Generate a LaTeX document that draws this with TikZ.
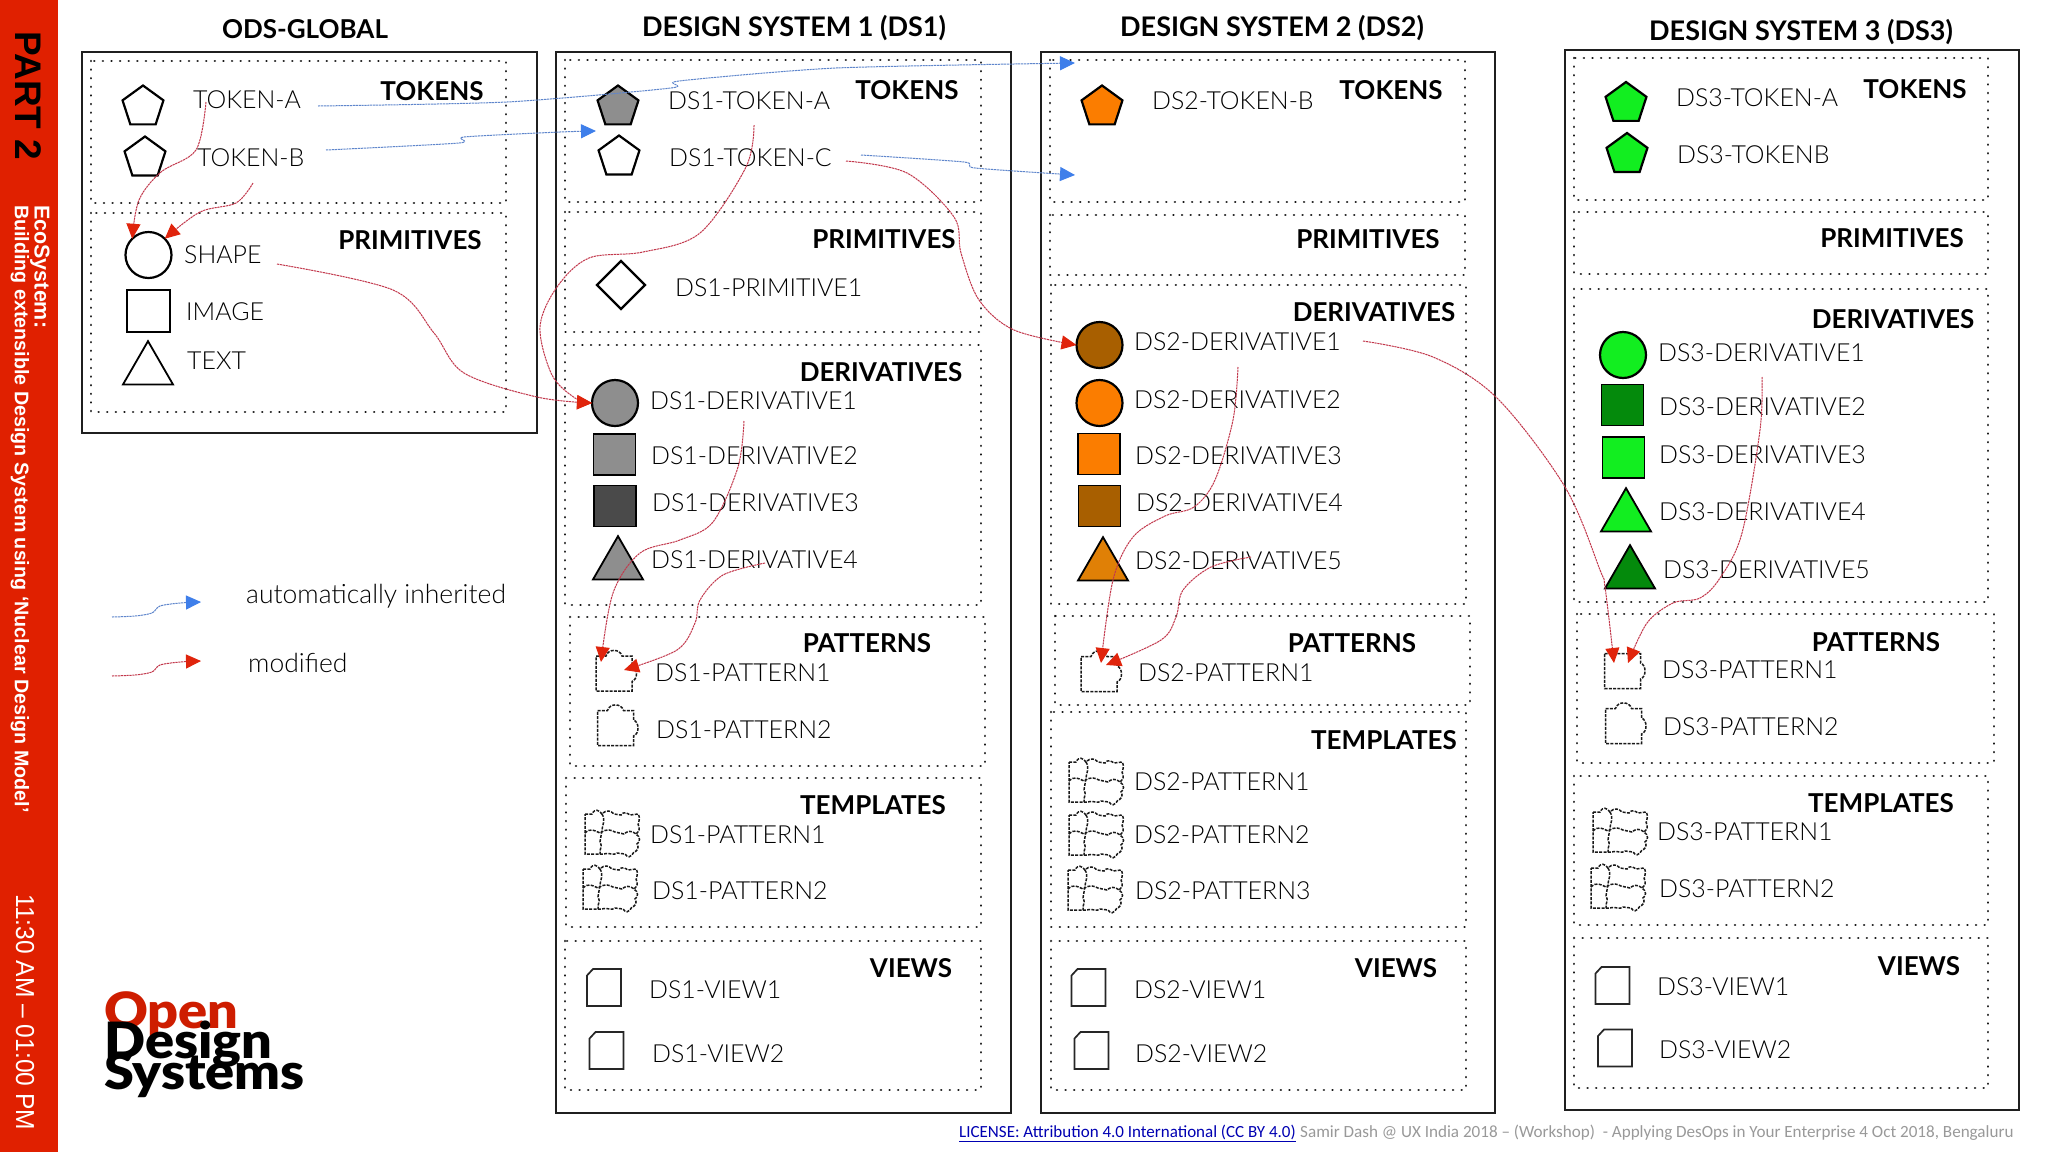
\documentclass[tikz,border=0pt]{standalone}
\usepackage{fontspec}
\usetikzlibrary{arrows.meta,shapes.geometric}
\setmainfont{Lato}
\newfontfamily\lightf{Lato Light}
\newfontfamily\blackf{Lato Black}
\newfontfamily\sidef{Liberation Sans}
\newfontfamily\licf{Carlito}
\definecolor{barred}{HTML}{E02000}
\definecolor{linkred}{HTML}{C2384C}
\definecolor{linkblue}{HTML}{5F86CC}
\definecolor{tipred}{HTML}{E0240C}
\definecolor{tipblue}{HTML}{3F7FEA}
\definecolor{gmid}{HTML}{8E8E8E}
\definecolor{gdark}{HTML}{4A4A4A}
\definecolor{orng}{HTML}{FB7D00}
\definecolor{orngd}{HTML}{E08006}
\definecolor{brwn}{HTML}{A85F00}
\definecolor{gbright}{HTML}{12EE20}
\definecolor{gdeep}{HTML}{048A0C}
\definecolor{txt}{HTML}{000000}
\tikzset{
  frame/.style={draw=black!88,line width=2.4pt},
  dotpanel/.style={draw=black!90,line width=2.6pt,line cap=round,dash pattern=on 0.01pt off 8.6pt},
  lbl/.style={anchor=west,inner sep=0pt,text=txt,font=\lightf\fontsize{24.9}{25}\selectfont},
  hd/.style={anchor=center,inner sep=0pt,text=black,font=\bfseries\fontsize{26}{26}\selectfont},
  ttl/.style={anchor=center,inner sep=0pt,text=black,font=\bfseries\fontsize{26.5}{26.5}\selectfont},
  ic/.style={draw=black,line width=2.2pt,inner sep=0pt,outer sep=0pt},
  circ/.style={ic,circle,minimum size=46pt},
  sq/.style={ic,rectangle,minimum width=42pt,minimum height=41pt,line width=1.8pt},
  pent/.style={ic,regular polygon,regular polygon sides=5,minimum size=43pt},
  tri/.style={ic,regular polygon,regular polygon sides=3,minimum size=57.7pt,line width=1.8pt},
  redlink/.style={draw=linkred,line width=1pt,dash pattern=on 2.2pt off 0.7pt,
    -{Triangle[length=15pt,width=14pt,color=tipred,fill=tipred]}},
  bluelink/.style={draw=linkblue,line width=1pt,dash pattern=on 2.2pt off 0.7pt,
    -{Triangle[length=15pt,width=14pt,color=tipblue,fill=tipblue]}},
  dashic/.style={draw=black!90,line width=1.5pt,dash pattern=on 3pt off 1.3pt},
  puz/.pic={\draw[dashic] (-18,-17.5) -- (-8,-17.5) .. controls (-6,-25) and (6,-25) .. (8,-17.5) -- (18,-17.5) -- (18,-8) .. controls (24,-6) and (24,6) .. (18,8) -- (18,17.5) -- (-18,17.5) -- cycle;},
  puzr/.pic={\draw[dashic] (-18,-17.5) -- (18,-17.5) -- (18,-8) .. controls (24,-6) and (24,6) .. (18,8) -- (18,17.5) -- (-18,17.5) -- cycle;},
  tmpl/.pic={\draw[dashic] (-27,-20) -- (-20,-20) .. controls (-17,-26) and (-13,-24) .. (-10,-20)
      .. controls (-5,-25) and (-1,-23) .. (2,-20) -- (9,-19) .. controls (12,-23) and (15,-21) .. (18,-19) -- (26,-20)
      .. controls (30,-14) and (24,-10) .. (27,-7) .. controls (28,-3) and (25,-1) .. (24,0)
      .. controls (29,3) and (28,8) .. (25,10) .. controls (28,14) and (24,18) .. (22,18)
      .. controls (18,24) and (16,24) .. (13,20) -- (5,19) .. controls (2,22) and (-3,18) .. (-9,20) -- (-27,20) -- cycle;
    \draw[dashic] (-10,-20) .. controls (-6,-14) and (-10,-8) .. (-10,-4) -- (-12,8) .. controls (-9,12) and (-13,16) .. (-12,20);
    \draw[dashic] (-27,-1) .. controls (-22,-6) and (-18,-4) .. (-12,-1) .. controls (-4,-6) and (-2,-4) .. (3,-2) -- (12,0) .. controls (15,-3) and (20,-4) .. (24,0);},
  docic/.pic={\draw[draw=black!85,line width=1.7pt] (-11,-18.5) -- (17,-18.5) -- (17,18.5) -- (-17,18.5) -- (-17,-12) -- cycle;}
}
\newcommand{\lab}[4]{\node[lbl] (#1) at (#2,#3) {#4};}
\newcommand{\head}[4]{\node[hd] (#1) at (#2,#3) {#4};}
\newcommand{\panel}[4]{\draw[dotpanel] (#1,#2) rectangle (#3,#4);}
\begin{document}
\begin{tikzpicture}[x=1pt,y=-1pt]
\useasboundingbox (0,0) rectangle (2048,1152);
\fill[white] (0,0) rectangle (2048,1152);
% side bar
\fill[barred] (0,0) rectangle (58,1152);
\node[rotate=-90,inner sep=0pt,text=black,font=\sidef\bfseries\fontsize{37}{37}\selectfont,anchor=center] (part) at (28,96) {PART 2};
\node[rotate=-90,inner sep=0pt,text=white,font=\sidef\bfseries\fontsize{21.5}{21.5}\selectfont,anchor=west] (eco) at (40,205) {EcoSystem:};
\node[rotate=-90,inner sep=0pt,text=white,font=\sidef\bfseries\fontsize{19.7}{19.7}\selectfont,anchor=west] (bld) at (20,205) {Building extensible Design System using ‘Nuclear Design Model’};
\node[rotate=-90,inner sep=0pt,text=white,font=\sidef\fontsize{26}{26}\selectfont,anchor=west] (time) at (25,894) {\scalebox{0.945}[1]{11:30 AM – 01:00 PM}};
% titles
\node[ttl,font=\bfseries\fontsize{26}{26}\selectfont] (t0) at (305,29) {ODS-GLOBAL};
\node[ttl,font=\bfseries\fontsize{27}{27}\selectfont] (t1) at (794,28) {DESIGN SYSTEM 1 (DS1)};
\node[ttl,font=\bfseries\fontsize{27}{27}\selectfont] (t2) at (1272,28) {DESIGN SYSTEM 2 (DS2)};
\node[ttl,font=\bfseries\fontsize{27}{27}\selectfont] (t3) at (1801,32) {DESIGN SYSTEM 3 (DS3)};
% frames
\draw[frame] (82,52) rectangle (537,433);
\draw[frame] (556,52) rectangle (1011,1113);
\draw[frame] (1041,52) rectangle (1495,1113);
\draw[frame] (1565,50) rectangle (2019,1110);
% panels ODS
\panel{91}{61}{506}{203}
\panel{91}{213}{506}{412}
% panels DS1
\panel{565}{60}{981}{202}
\panel{565}{212}{981}{332}
\panel{565}{345}{981}{605}
\panel{570}{617}{985}{766}
\panel{566}{778}{981}{927}
\panel{565}{941}{981}{1090}
% panels DS2
\panel{1050}{60}{1465}{202}
\panel{1050}{215}{1465}{275}
\panel{1051}{285}{1466}{604}
\panel{1055}{616}{1470}{705}
\panel{1051}{712}{1466}{927}
\panel{1051}{941}{1466}{1090}
% panels DS3
\panel{1574}{58}{1988}{200}
\panel{1574}{212}{1988}{274}
\panel{1574}{289}{1988}{602}
\panel{1577}{614}{1994}{763}
\panel{1574}{776}{1988}{925}
\panel{1574}{938}{1988}{1088}
% ODS content
\head{h0a}{432}{91}{TOKENS}
\head{h0b}{410}{240}{PRIMITIVES}
\node[pent] (ga) at (143,107) {};
\node[pent] (gb) at (145,158) {};
\node[circ] (gshape) at (148.5,255) {};
\node[sq,minimum width=43pt,minimum height=42pt] (gimg) at (148.5,311) {};
\node[tri] (gtxt) at (148,370) {};
\lab{lta}{193}{100}{TOKEN-A}
\lab{ltb}{197}{158}{TOKEN-B}
\lab{lsh}{184}{255}{SHAPE}
\lab{lim}{186}{312}{IMAGE}
\lab{ltx}{187}{361}{TEXT}
% DS1 content
\head{h1a}{907}{90}{TOKENS}
\head{h1b}{884}{239}{PRIMITIVES}
\head{h1c}{881}{372}{DERIVATIVES}
\head{h1d}{867}{643}{PATTERNS}
\head{h1e}{873}{805}{TEMPLATES}
\head{h1f}{911}{968}{VIEWS}
\node[pent,fill=gmid] (d1ta) at (618,107) {};
\node[pent] (d1tc) at (619,157) {};
\node[ic,diamond,minimum size=48pt] (d1pr) at (621,285) {};
\node[circ,fill=gmid] (d1d1) at (615,403) {};
\node[sq,fill=gmid] (d1d2) at (614.5,454.5) {};
\node[sq,fill=gdark] (d1d3) at (615,506) {};
\node[tri,fill=gmid] (d1d4) at (618,565) {};
\lab{l1ta}{668}{101}{DS1-TOKEN-A}
\lab{l1tc}{669}{158}{DS1-TOKEN-C}
\lab{l1pr}{675}{288}{DS1-PRIMITIVE1}
\lab{l1d1}{650}{401}{DS1-DERIVATIVE1}
\lab{l1d2}{651}{456}{DS1-DERIVATIVE2}
\lab{l1d3}{652}{503}{DS1-DERIVATIVE3}
\lab{l1d4}{651}{560}{DS1-DERIVATIVE4}
\coordinate (d1p1) at (614,673.5);
\pic at (d1p1) {puz};
\coordinate (d1p2) at (615.5,728);
\pic at (d1p2) {puz};
\lab{l1p1}{655}{673}{DS1-PATTERN1}
\lab{l1p2}{656}{730}{DS1-PATTERN2}
\pic at (612,834) {tmpl};
\pic at (610,889) {tmpl};
\lab{l1t1}{650}{835}{DS1-PATTERN1}
\lab{l1t2}{652}{891}{DS1-PATTERN2}
\pic at (604,987.5) {docic};
\pic at (606.5,1050.5) {docic};
\lab{l1v1}{649}{990}{DS1-VIEW1}
\lab{l1v2}{652}{1054}{DS1-VIEW2}
% DS2 content
\head{h2a}{1391}{90}{TOKENS}
\head{h2b}{1368}{239}{PRIMITIVES}
\head{h2c}{1374}{312}{DERIVATIVES}
\head{h2d}{1352}{643}{PATTERNS}
\head{h2e}{1384}{740}{TEMPLATES}
\head{h2f}{1396}{968}{VIEWS}
\node[pent,fill=orng] (d2tb) at (1102,107) {};
\node[circ,fill=brwn] (d2d1) at (1099.5,345) {};
\node[circ,fill=orng] (d2d2) at (1099.5,403) {};
\node[sq,fill=orng] (d2d3) at (1099,454) {};
\node[sq,fill=brwn] (d2d4) at (1099.5,506) {};
\node[tri,fill=orngd] (d2d5) at (1103,566) {};
\lab{l2tb}{1152}{101}{DS2-TOKEN-B}
\lab{l2d1}{1134}{342}{DS2-DERIVATIVE1}
\lab{l2d2}{1134}{400}{DS2-DERIVATIVE2}
\lab{l2d3}{1135}{456}{DS2-DERIVATIVE3}
\lab{l2d4}{1136}{503}{DS2-DERIVATIVE4}
\lab{l2d5}{1135}{561}{DS2-DERIVATIVE5}
\coordinate (d2p1) at (1099,674);
\pic at (d2p1) {puz};
\lab{l2p1}{1138}{673}{DS2-PATTERN1}
\pic at (1096,782) {tmpl};
\pic at (1096,835) {tmpl};
\pic at (1095,890) {tmpl};
\lab{l2t1}{1134}{782}{DS2-PATTERN1}
\lab{l2t2}{1134}{835}{DS2-PATTERN2}
\lab{l2t3}{1135}{891}{DS2-PATTERN3}
\pic at (1088.5,987.5) {docic};
\pic at (1091.5,1050.5) {docic};
\lab{l2v1}{1134}{990}{DS2-VIEW1}
\lab{l2v2}{1135}{1054}{DS2-VIEW2}
% DS3 content
\head{h3a}{1915}{89}{TOKENS}
\head{h3b}{1892}{238}{PRIMITIVES}
\head{h3c}{1893}{319}{DERIVATIVES}
\head{h3d}{1876}{642}{PATTERNS}
\head{h3e}{1881}{803}{TEMPLATES}
\head{h3f}{1919}{966}{VIEWS}
\node[pent,fill=gbright] (d3ta) at (1626,103.5) {};
\node[pent,fill=gbright] (d3tb) at (1627,154.5) {};
\node[circ,fill=gbright] (d3d1) at (1623,355) {};
\node[sq,fill=gdeep] (d3d2) at (1622.5,405) {};
\node[sq,fill=gbright] (d3d3) at (1623.5,457.5) {};
\node[tri,fill=gbright] (d3d4) at (1626,517) {};
\node[tri,fill=gdeep] (d3d5) at (1630,574) {};
\lab{l3ta}{1676}{98}{DS3-TOKEN-A}
\lab{l3tb}{1677}{155}{DS3-TOKENB}
\lab{l3d1}{1658}{353}{DS3-DERIVATIVE1}
\lab{l3d2}{1659}{407}{DS3-DERIVATIVE2}
\lab{l3d3}{1659}{455}{DS3-DERIVATIVE3}
\lab{l3d4}{1659}{512}{DS3-DERIVATIVE4}
\lab{l3d5}{1663}{570}{DS3-DERIVATIVE5}
\coordinate (d3p1) at (1622.5,671);
\pic at (d3p1) {puzr};
\coordinate (d3p2) at (1623.5,726);
\pic at (d3p2) {puz};
\lab{l3p1}{1662}{670}{DS3-PATTERN1}
\lab{l3p2}{1663}{727}{DS3-PATTERN2}
\pic at (1620,832) {tmpl};
\pic at (1618,888) {tmpl};
\lab{l3t1}{1657}{832}{DS3-PATTERN1}
\lab{l3t2}{1659}{889}{DS3-PATTERN2}
\pic at (1612.5,985.5) {docic};
\pic at (1615,1048) {docic};
\lab{l3v1}{1657}{987}{DS3-VIEW1}
\lab{l3v2}{1659}{1050}{DS3-VIEW2}
% legend
\node[lbl,font=\lightf\fontsize{26.5}{26.5}\selectfont] (lgb) at (246,596) {automatically inherited};
\node[lbl,font=\lightf\fontsize{26.5}{26.5}\selectfont] (lgr) at (248,663) {modified};
\coordinate (lb0) at (112,617); \coordinate (lb1) at (201,602);
\coordinate (lr0) at (112,676); \coordinate (lr1) at (201,661);
\draw[bluelink] plot[smooth,tension=0.5] coordinates {(lb0) (135,616) (152,613) (160,606) (180,603) (lb1)};
\draw[redlink] plot[smooth,tension=0.5] coordinates {(lr0) (135,675) (152,672) (160,665) (180,662) (lr1)};
% logo
\node[anchor=base west,inner sep=0pt,text=barred!92!black,font=\blackf\fontsize{50}{50}\selectfont] (lo) at (104,1028) {\scalebox{1.08}[1]{Open}};
\node[anchor=base west,inner sep=0pt,text=black,font=\blackf\fontsize{50}{50}\selectfont] (ld) at (104,1058) {\scalebox{1.08}[1]{Design}};
\node[anchor=base west,inner sep=0pt,text=black,font=\blackf\fontsize{50}{50}\selectfont] (ls) at (104,1089) {\scalebox{1.08}[1]{Systems}};
% license
\node[anchor=west,inner sep=0pt,text=blue!70!black,font=\licf\fontsize{17}{17}\selectfont] (lic) at (959,1133) {\underline{LICENSE: Attribution 4.0 International (CC BY 4.0)}};
\node[anchor=west,inner sep=0pt,text=black!40,font=\licf\fontsize{17.1}{17.1}\selectfont] (cred) at (1300,1133) {Samir Dash @ UX India 2018 – (Workshop)\ \ - Applying DesOps in Your Enterprise 4 Oct 2018, Bengaluru};
% connector start points
\coordinate (s1) at (206,102);
\coordinate (s2) at (253,183);
\coordinate (s3) at (277,264);
\coordinate (b1) at (318,106);
\coordinate (b2) at (326,150);
\coordinate (b3) at (861,155);
\coordinate (e1) at (1075,63);
\coordinate (e2) at (596,131);
\coordinate (e3) at (1075,175);
\coordinate (s4) at (754,125);
\coordinate (s5) at (846,161);
\coordinate (s6) at (744,421);
\coordinate (s7) at (765,563);
\coordinate (s8) at (1238,367);
\coordinate (s9) at (1251,557);
\coordinate (s10) at (1363,341);
\coordinate (s11) at (1762,377);
\coordinate (t61) at (601,662);
\coordinate (t71) at (624,670);
\coordinate (t81) at (1101,663);
\coordinate (t91) at (1106,665);
\coordinate (t101) at (1614,663);
\coordinate (t111) at (1628,663);
% connectors
\draw[redlink] plot[smooth,tension=0.55] coordinates {(s1) (196,150) (161,172) (139,200) (gshape.135)};
\draw[redlink] plot[smooth,tension=0.55] coordinates {(s2) (236,203) (200,212) (gshape.45)};
\draw[redlink] plot[smooth,tension=0.55] coordinates {(s3) (393,290) (434,333) (464,373) (537,397) (d1d1.west)};
\draw[bluelink] plot[smooth,tension=0.4] coordinates {(b1) (507,102) (671,88) (679,81) (836,68) (e1)};
\draw[bluelink] plot[smooth,tension=0.4] coordinates {(b2) (459,143) (464,137) (560,132) (e2)};
\draw[bluelink] plot[smooth,tension=0.4] coordinates {(b3) (964,162) (975,168) (e3)};
\draw[redlink] plot[smooth,tension=0.55] coordinates {(s4) (746,167) (700,233) (643,252) (589,258) (557,287) (540,327) (552,375) (575,398) (d1d1.west)};
\draw[redlink] plot[smooth,tension=0.55] coordinates {(s5) (907,173) (954,217) (961,253) (979,300) (1014,330) (d2d1.west)};
\draw[redlink] plot[smooth,tension=0.55] coordinates {(s6) (738,467) (713,522) (680,540) (640,553) (613,593) (t61)};
\draw[redlink] plot[smooth,tension=0.55] coordinates {(s7) (723,575) (700,600) (695,623) (677,650) (t71)};
\draw[redlink] plot[smooth,tension=0.55] coordinates {(s8) (1233,420) (1215,480) (1194,507) (1165,516) (1133,537) (1113,580) (t81)};
\draw[redlink] plot[smooth,tension=0.55] coordinates {(s9) (1211,567) (1183,590) (1176,617) (1161,640) (t91)};
\draw[redlink] plot[smooth,tension=0.55] coordinates {(s10) (1433,357) (1497,398) (1565,487) (1600,570) (1605,587) (t101)};
\draw[redlink] plot[smooth,tension=0.55] coordinates {(s11) (1760,430) (1742,533) (1720,578) (1700,598) (1673,603) (1647,623) (t111)};
\end{tikzpicture}
\end{document}
